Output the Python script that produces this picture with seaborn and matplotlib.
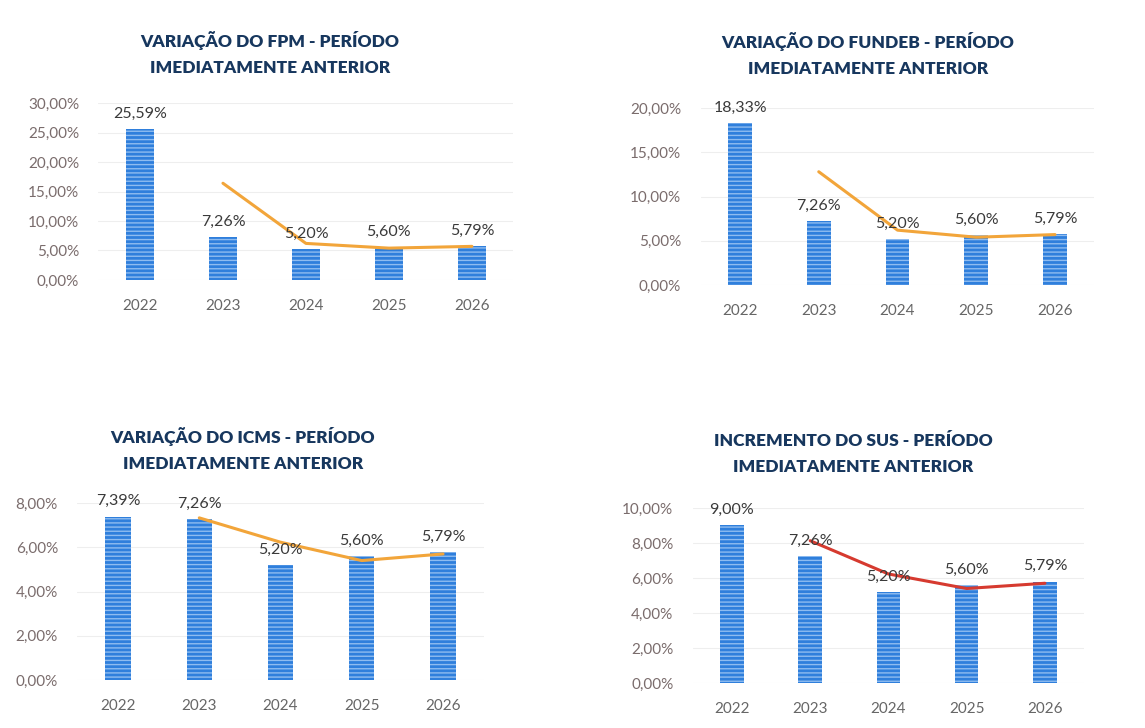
import matplotlib
matplotlib.use("Agg")
import matplotlib.pyplot as plt
import seaborn as sns
import pandas as pd

years = ["2022", "2023", "2024", "2025", "2026"]

fpm_values = [25.59, 7.26, 5.20, 5.60, 5.79]
fundeb_values = [18.33, 7.26, 5.20, 5.60, 5.79]
icms_values = [7.39, 7.26, 5.20, 5.60, 5.79]
sus_values = [9.00, 7.26, 5.20, 5.60, 5.79]

# trend line values (2023..2026)
trend_years = ["2023", "2024", "2025", "2026"]
fpm_trend = [16.4, 6.2, 5.4, 5.7]
fundeb_trend = [12.8, 6.2, 5.4, 5.7]
icms_trend = [7.33, 6.23, 5.4, 5.7]
sus_trend = [8.13, 6.23, 5.4, 5.7]

titles = [
    "VARIAÇÃO DO FPM - PERÍODO\nIMEDIATAMENTE ANTERIOR",
    "VARIAÇÃO DO FUNDEB - PERÍODO\nIMEDIATAMENTE ANTERIOR",
    "VARIAÇÃO DO ICMS - PERÍODO\nIMEDIATAMENTE ANTERIOR",
    "INCREMENTO DO SUS - PERÍODO\nIMEDIATAMENTE ANTERIOR",
]
y_ticks = [
    [0, 5, 10, 15, 20, 25, 30],
    [0, 5, 10, 15, 20],
    [0, 2, 4, 6, 8],
    [0, 2, 4, 6, 8, 10],
]

sns.set_theme(style="white")
plt.rcParams["font.family"] = ["Lato", "DejaVu Sans"]
plt.rcParams["hatch.linewidth"] = 1.0

fig = plt.figure(figsize=(11.45, 7.28), dpi=100)

# axes rectangles and title positions (figure fractions)
rects = [
    [0.086, 0.6154, 0.3624, 0.2431],
    [0.6119, 0.6085, 0.3439, 0.2431],
    [0.0676, 0.0659, 0.3548, 0.2431],
    [0.6051, 0.0618, 0.3417, 0.2404],
]
title_pos = [(0.236, 0.927), (0.758, 0.925), (0.212, 0.383), (0.745, 0.376)]
bar_widths = [0.34, 0.30, 0.31, 0.30]
ylims = [30, 20, 8, 10]
line_colors = ["#f2a53a", "#f2a53a", "#f2a53a", "#d63a2f"]

series = [fpm_values, fundeb_values, icms_values, sus_values]
trends = [fpm_trend, fundeb_trend, icms_trend, sus_trend]

for i in range(4):
    ax = fig.add_axes(rects[i])
    df = pd.DataFrame({"ano": years, "valor": series[i]})
    sns.barplot(data=df, x="ano", y="valor", ax=ax, color="#2f7fdc",
                width=bar_widths[i], saturation=1)
    for p in ax.patches:
        p.set_hatch("----")
        p.set_edgecolor("#8fbcf0")
        p.set_linewidth(0)
    tdf = pd.DataFrame({"ano": trend_years, "valor": trends[i]})
    xpos = [years.index(a) for a in trend_years]
    sns.lineplot(x=xpos, y=tdf["valor"], ax=ax, color=line_colors[i], lw=2.2)
    for xi, v in enumerate(series[i]):
        ax.annotate(f"{v:.2f}%".replace(".", ","), (xi, v), xytext=(0, 6),
                    textcoords="offset points", ha="center", va="bottom",
                    fontsize=11.5, color="#3a3a3a")
    ax.set_xlim(-0.5, 4.5)
    ax.set_ylim(0, ylims[i])
    ax.set_yticks(y_ticks[i])
    ax.set_yticklabels([f"{t:.2f}%".replace(".", ",") for t in y_ticks[i]],
                       fontsize=11, color="#7a6c6c")
    ax.set_xticks(range(5))
    ax.set_xticklabels(years, fontsize=11, color="#666666")
    ax.tick_params(axis="y", length=0, pad=14)
    ax.tick_params(axis="x", length=0, pad=14)
    ax.set_xlabel("")
    ax.set_ylabel("")
    ax.grid(axis="y", color="#eeeeee", lw=0.8)
    ax.set_axisbelow(True)
    for s in ax.spines.values():
        s.set_visible(False)
    fig.text(title_pos[i][0], title_pos[i][1], titles[i], ha="center",
             va="center", fontsize=12.5, fontweight="heavy", color="#17375e",
             linespacing=1.75)

fig.savefig("out.png", dpi=100, facecolor="white")
